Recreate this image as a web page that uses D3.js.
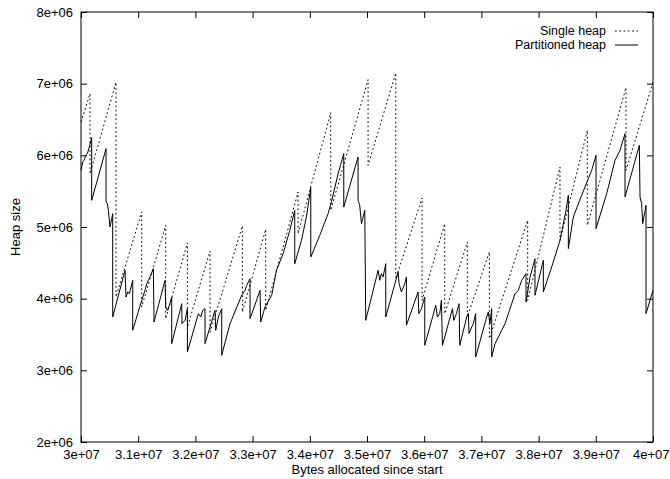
<!DOCTYPE html>
<html>
<head>
<meta charset="utf-8">
<script src="https://cdn.jsdelivr.net/npm/d3@7"></script>
<style>
  body { margin: 0; background: #fff; }
  text { font-family: "Liberation Sans", Arial, sans-serif; font-size: 13px; fill: #000; }
</style>
</head>
<body>
<div class="chart-wrapper"></div>
<script>
// tick values and their labels (gnuplot style)
const xTicks = [30e6, 31e6, 32e6, 33e6, 34e6, 35e6, 36e6, 37e6, 38e6, 39e6, 40e6]
const xTickLabels = ["3e+07", "3.1e+07", "3.2e+07", "3.3e+07", "3.4e+07", "3.5e+07",
  "3.6e+07", "3.7e+07", "3.8e+07", "3.9e+07", "4e+07"]
const yTicks = [2e6, 3e6, 4e6, 5e6, 6e6, 7e6, 8e6]
const yTickLabels = ["2e+06", "3e+06", "4e+06", "5e+06", "6e+06", "7e+06", "8e+06"]

const seriesNames = ["Single heap", "Partitioned heap"]

// Single heap: bytes allocated (millions) / heap size (millions)
const singleBytes = [30.0, 30.158, 30.158, 30.612, 30.612, 31.061, 31.061, 31.481, 31.481,
  31.86, 31.86, 32.256, 32.256, 32.821, 32.821, 33.229, 33.229, 33.795, 33.795, 34.366,
  34.366, 35.019, 35.019, 35.503, 35.503, 35.963, 35.963, 36.359, 36.359, 36.754, 36.754,
  37.139, 37.139, 37.809, 37.809, 38.374, 38.374, 38.852, 38.852, 39.528, 39.528, 40.0]
const singleSize = [6.465, 6.86, 5.744, 7.02, 4.023, 5.21, 3.884, 5.023, 3.721,
  4.777, 3.605, 4.665, 3.53, 5.014, 3.814, 4.967, 3.837, 5.488, 4.907, 6.595,
  5.233, 7.056, 5.86, 7.149, 4.279, 5.405, 3.977, 5.047, 3.79, 4.791, 3.744,
  4.651, 3.442, 5.093, 3.977, 5.837, 4.814, 6.349, 5.023, 6.944, 5.791, 7.02]

// Partitioned heap: bytes allocated (millions) / heap size (millions)
const partBytes = [30.0, 30.03, 30.053, 30.082, 30.111, 30.146, 30.187, 30.187, 30.438, 30.438,
  30.461, 30.478, 30.507, 30.537, 30.554, 30.554, 30.77, 30.787, 30.816, 30.845, 30.875,
  30.904, 30.904, 31.061, 31.119, 31.149, 31.207, 31.265, 31.277, 31.469, 31.481, 31.51,
  31.545, 31.586, 31.586, 31.761, 31.766, 31.819, 31.86, 31.86, 32.052, 32.093, 32.128,
  32.168, 32.168, 32.343, 32.355, 32.401, 32.46, 32.46, 32.605, 32.809, 32.868, 32.897,
  32.955, 32.955, 33.13, 33.142, 33.217, 33.334, 33.417, 33.533, 33.65, 33.737, 33.737,
  33.854, 33.941, 34.017, 34.017, 34.174, 34.32, 34.378, 34.495, 34.594, 34.594, 34.844,
  34.844, 34.873, 34.903, 34.961, 34.978, 35.194, 35.223, 35.252, 35.281, 35.328, 35.328,
  35.544, 35.561, 35.602, 35.66, 35.689, 35.689, 35.893, 35.905, 35.952, 35.992, 36.01,
  36.01, 36.202, 36.231, 36.272, 36.301, 36.319, 36.494, 36.517, 36.563, 36.61, 36.622,
  36.743, 36.772, 36.783, 36.83, 36.859, 36.9, 36.9, 37.092, 37.121, 37.15, 37.18, 37.18,
  37.238, 37.413, 37.588, 37.646, 37.704, 37.78, 37.78, 37.85, 37.937, 37.937, 38.083,
  38.083, 38.229, 38.374, 38.479, 38.52, 38.52, 38.607, 38.753, 38.811, 38.928, 39.004,
  39.004, 39.19, 39.336, 39.423, 39.511, 39.511, 39.761, 39.773, 39.802, 39.82, 39.878,
  39.878, 40.0]
const partSize = [5.791, 5.907, 5.93, 6.0, 6.023, 6.116, 6.247, 5.372, 6.093, 5.349,
  5.326, 5.233, 5.0, 5.116, 5.186, 3.744, 4.395, 4.023, 4.093, 4.07, 4.163,
  4.256, 3.558, 3.977, 4.116, 4.209, 4.302, 4.419, 3.674, 4.256, 3.884, 3.837,
  3.907, 4.023, 3.372, 3.93, 3.651, 3.698, 3.86, 3.256, 3.791, 3.744, 3.837,
  3.86, 3.372, 3.837, 3.558, 3.744, 3.86, 3.209, 3.651, 4.047, 4.116, 4.186,
  4.279, 3.721, 4.116, 3.674, 3.884, 4.047, 4.395, 4.628, 4.953, 5.233, 4.488,
  4.814, 5.14, 5.549, 4.581, 4.884, 5.186, 5.349, 5.744, 6.023, 5.279, 5.977,
  5.372, 5.302, 5.047, 5.233, 3.698, 4.395, 4.256, 4.349, 4.302, 4.488, 3.744,
  4.372, 4.209, 4.093, 4.209, 4.302, 3.628, 4.093, 3.791, 3.86, 3.977, 4.023,
  3.349, 3.907, 3.744, 3.791, 3.977, 3.349, 3.86, 3.698, 3.791, 3.93, 3.349,
  3.744, 3.791, 3.512, 3.605, 3.651, 3.791, 3.186, 3.744, 3.814, 3.651, 3.86, 3.186,
  3.372, 3.651, 4.07, 4.116, 4.256, 4.349, 3.953, 4.302, 4.558, 4.047, 4.535,
  4.093, 4.442, 4.814, 5.233, 5.442, 4.698, 5.14, 5.442, 5.558, 5.791, 6.0,
  4.977, 5.465, 5.93, 6.07, 6.302, 5.419, 6.14, 5.419, 5.326, 5.047, 5.302,
  3.791, 4.116]

const margin = {top: 12, right: 17, bottom: 37, left: 81},
  width = 670 - margin.left - margin.right,
  height = 479 - margin.top - margin.bottom;

const svg = d3.select('.chart-wrapper')
  .append('svg')
  .attr('width', width + margin.left + margin.right)
  .attr('height', height + margin.top + margin.bottom)
  .append('g')
  .attr('transform', 'translate(' + margin.left + ',' + margin.top + ')');

const x = d3.scaleLinear().domain([30e6, 40e6]).range([0, width])
const y = d3.scaleLinear().domain([2e6, 8e6]).range([height, 0])

const tickLen = 6

// bottom + top ticks, pointing inward
const xAxis = svg.append('g')
  .attr('transform', 'translate(0,' + height + ')')
  .call(d3.axisBottom(x).tickValues(xTicks).tickSizeInner(-tickLen).tickSizeOuter(0)
    .tickPadding(8).tickFormat((d, i) => xTickLabels[i]))
// last label sits against the right edge of the picture
xAxis.selectAll('.tick:last-of-type text').attr('x', 16).attr('text-anchor', 'end')

svg.append('g')
  .call(d3.axisTop(x).tickValues(xTicks).tickSizeInner(-tickLen).tickSizeOuter(0)
    .tickFormat(''))

// left + right ticks
svg.append('g')
  .call(d3.axisLeft(y).tickValues(yTicks).tickSizeInner(-tickLen).tickSizeOuter(0)
    .tickPadding(8).tickFormat((d, i) => yTickLabels[i]))
svg.append('g')
  .attr('transform', 'translate(' + width + ',0)')
  .call(d3.axisRight(y).tickValues(yTicks).tickSizeInner(-tickLen).tickSizeOuter(0)
    .tickFormat(''))

svg.selectAll('.domain').remove()
svg.selectAll('.tick line').attr('stroke', '#000')
svg.selectAll('.tick text')
  .style('font-family', '"Liberation Sans", Arial, sans-serif')
  .style('font-size', '13px')
  .attr('fill', '#000')

const line = d3.line()
  .x(d => x(d[0] * 1e6))
  .y(d => y(d[1] * 1e6))

const singleData = singleBytes.map((b, i) => [b, singleSize[i]])
const partData = partBytes.map((b, i) => [b, partSize[i]])

svg.append('path')
  .datum(singleData)
  .attr('d', line)
  .attr('fill', 'none')
  .attr('stroke', '#000')
  .attr('stroke-width', 1)
  .attr('stroke-dasharray', '1.7,2.6')

svg.append('path')
  .datum(partData)
  .attr('d', line)
  .attr('fill', 'none')
  .attr('stroke', '#000')
  .attr('stroke-width', 1)

// frame
svg.append('rect')
  .attr('width', width)
  .attr('height', height)
  .attr('fill', 'none')
  .attr('stroke', '#000')
  .attr('stroke-width', 1)

// axis titles
svg.append('text')
  .attr('x', width / 2)
  .attr('y', height + 32)
  .attr('text-anchor', 'middle')
  .text('Bytes allocated since start')

svg.append('text')
  .attr('transform', 'translate(' + (-61) + ',' + (height / 2) + ') rotate(-90)')
  .attr('text-anchor', 'middle')
  .text('Heap size')

// legend, top right inside the frame
const legend = svg.append('g').attr('transform', 'translate(' + (width - 47) + ',19)')
seriesNames.forEach((name, i) => {
  const g = legend.append('g').attr('transform', 'translate(0,' + (i * 14) + ')')
  g.append('text')
    .attr('x', 0)
    .attr('y', 0)
    .attr('dy', '0.35em')
    .attr('text-anchor', 'end')
    .style('font-size', '12.5px')
    .text(name)
  g.append('line')
    .attr('x1', 9).attr('x2', 32)
    .attr('y1', 0).attr('y2', 0)
    .attr('stroke', '#000')
    .attr('stroke-width', 1)
    .attr('stroke-dasharray', i === 0 ? '1.7,2.6' : null)
})
</script>
</body>
</html>
